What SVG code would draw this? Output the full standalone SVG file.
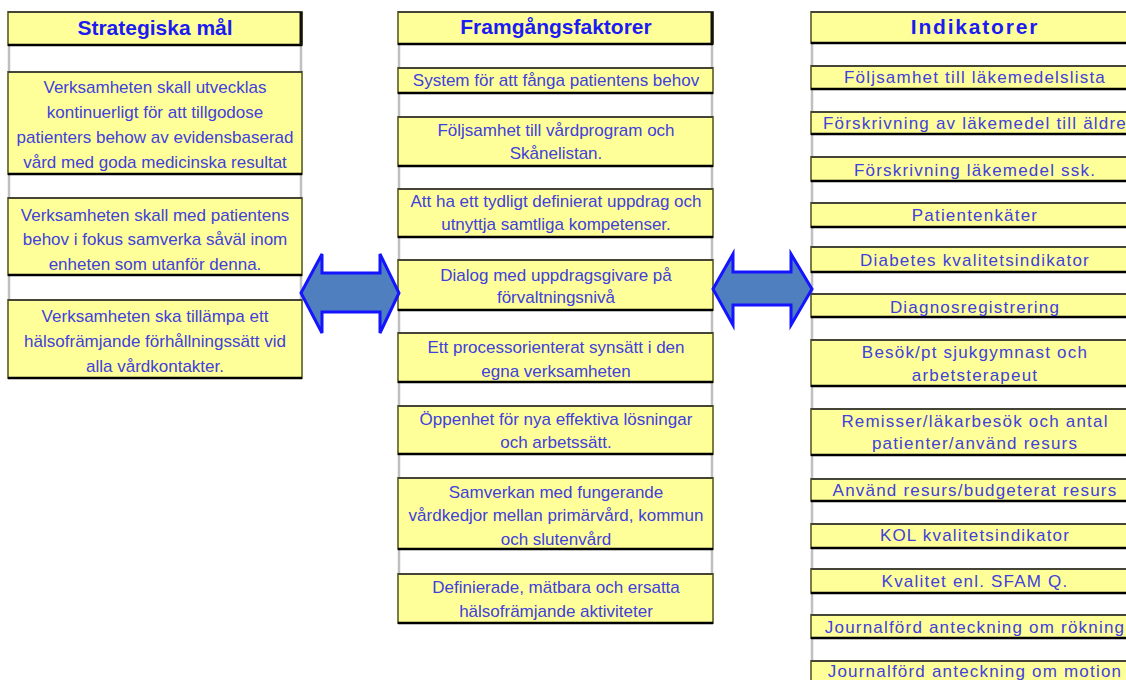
<svg xmlns="http://www.w3.org/2000/svg" width="1126" height="680" viewBox="0 0 1126 680">
  <style>
    .cell { fill: #ffff99; stroke: #7b7b45; stroke-width: 2; }
    .top { stroke: #333333; stroke-width: 1.5; }
    .bot { stroke: #000000; stroke-width: 2.5; }
    .grid { stroke: #c0c0c0; stroke-width: 2.5; fill: none; }
    .edge { stroke: #111111; stroke-width: 3; }
    .h { font-family: "Liberation Sans", Arial, sans-serif; font-weight: bold; font-size: 21px; fill: #1c1cf0; text-anchor: middle; }
    .t { font-family: "Liberation Sans", Arial, sans-serif; font-size: 17px; fill: #4141dc; text-anchor: middle; }
    .r { letter-spacing: 1.2px; }
    .hr { letter-spacing: 1.8px; }
    .arrow { fill: #4f7fbf; stroke: #1414ff; stroke-width: 3; stroke-linejoin: miter; }
  </style>

  <rect width="1126" height="680" fill="#ffffff"/>

  <!-- gray gridlines running through the empty rows -->
  <g id="gridlines">
    <path class="grid" d="M9 45 V300 M301 45 V300"/>
    <path class="grid" d="M399 44 V574 M712 44 V574"/>
    <path class="grid" d="M812 43 V680"/>
  </g>

  <!-- column 1: Strategiska mål -->
  <g id="strategiska-header">
    <rect class="cell" x="8" y="12" width="294" height="33"/>
    <line class="top" x1="8" y1="12" x2="302" y2="12"/>
    <line class="bot" x1="8" y1="45" x2="302" y2="45"/>
    <line class="edge" x1="301" y1="12" x2="301" y2="45"/>
    <text class="h" x="155" y="35">Strategiska mål</text>
  </g>
  <g id="mal-1">
    <rect class="cell" x="8" y="72" width="294" height="102"/>
    <line class="top" x1="8" y1="72" x2="302" y2="72"/>
    <line class="bot" x1="8" y1="174" x2="302" y2="174"/>
    <text class="t" x="155" y="93">Verksamheten skall utvecklas</text>
    <text class="t" x="155" y="118">kontinuerligt för att tillgodose</text>
    <text class="t" x="155" y="143">patienters behow av evidensbaserad</text>
    <text class="t" x="155" y="168">vård med goda medicinska resultat</text>
  </g>
  <g id="mal-2">
    <rect class="cell" x="8" y="198" width="294" height="77"/>
    <line class="top" x1="8" y1="198" x2="302" y2="198"/>
    <line class="bot" x1="8" y1="275" x2="302" y2="275"/>
    <text class="t" x="155" y="221">Verksamheten skall med patientens</text>
    <text class="t" x="155" y="245">behov i fokus samverka såväl inom</text>
    <text class="t" x="155" y="270">enheten som utanför denna.</text>
  </g>
  <g id="mal-3">
    <rect class="cell" x="8" y="300" width="294" height="78"/>
    <line class="top" x1="8" y1="300" x2="302" y2="300"/>
    <line class="bot" x1="8" y1="378" x2="302" y2="378"/>
    <text class="t" x="155" y="322">Verksamheten ska tillämpa ett</text>
    <text class="t" x="155" y="347">hälsofrämjande förhållningssätt vid</text>
    <text class="t" x="155" y="372">alla vårdkontakter.</text>
  </g>

  <!-- column 2: Framgångsfaktorer -->
  <g id="framgang-header">
    <rect class="cell" x="398" y="12" width="315" height="32"/>
    <line class="top" x1="398" y1="12" x2="713" y2="12"/>
    <line class="bot" x1="398" y1="44" x2="713" y2="44"/>
    <line class="edge" x1="712" y1="12" x2="712" y2="44"/>
    <text class="h" x="556" y="34">Framgångsfaktorer</text>
  </g>
  <g id="faktor-1">
    <rect class="cell" x="398" y="68" width="315" height="25"/>
    <line class="top" x1="398" y1="68" x2="713" y2="68"/>
    <line class="bot" x1="398" y1="93" x2="713" y2="93"/>
    <text class="t" x="556" y="86">System för att fånga patientens behov</text>
  </g>
  <g id="faktor-2">
    <rect class="cell" x="398" y="117" width="315" height="49"/>
    <line class="top" x1="398" y1="117" x2="713" y2="117"/>
    <line class="bot" x1="398" y1="166" x2="713" y2="166"/>
    <text class="t" x="556" y="136">Följsamhet till vårdprogram och</text>
    <text class="t" x="556" y="159">Skånelistan.</text>
  </g>
  <g id="faktor-3">
    <rect class="cell" x="398" y="189" width="315" height="48"/>
    <line class="top" x1="398" y1="189" x2="713" y2="189"/>
    <line class="bot" x1="398" y1="237" x2="713" y2="237"/>
    <text class="t" x="556" y="207">Att ha ett tydligt definierat uppdrag och</text>
    <text class="t" x="556" y="230">utnyttja samtliga kompetenser.</text>
  </g>
  <g id="faktor-4">
    <rect class="cell" x="398" y="260" width="315" height="50"/>
    <line class="top" x1="398" y1="260" x2="713" y2="260"/>
    <line class="bot" x1="398" y1="310" x2="713" y2="310"/>
    <text class="t" x="556" y="281">Dialog med uppdragsgivare på</text>
    <text class="t" x="556" y="303">förvaltningsnivå</text>
  </g>
  <g id="faktor-5">
    <rect class="cell" x="398" y="333" width="315" height="49"/>
    <line class="top" x1="398" y1="333" x2="713" y2="333"/>
    <line class="bot" x1="398" y1="382" x2="713" y2="382"/>
    <text class="t" x="556" y="353">Ett processorienterat synsätt i den</text>
    <text class="t" x="556" y="377">egna verksamheten</text>
  </g>
  <g id="faktor-6">
    <rect class="cell" x="398" y="406" width="315" height="48"/>
    <line class="top" x1="398" y1="406" x2="713" y2="406"/>
    <line class="bot" x1="398" y1="454" x2="713" y2="454"/>
    <text class="t" x="556" y="425">Öppenhet för nya effektiva lösningar</text>
    <text class="t" x="556" y="448">och arbetssätt.</text>
  </g>
  <g id="faktor-7">
    <rect class="cell" x="398" y="478" width="315" height="71"/>
    <line class="top" x1="398" y1="478" x2="713" y2="478"/>
    <line class="bot" x1="398" y1="549" x2="713" y2="549"/>
    <text class="t" x="556" y="498">Samverkan med fungerande</text>
    <text class="t" x="556" y="521">vårdkedjor mellan primärvård, kommun</text>
    <text class="t" x="556" y="545">och slutenvård</text>
  </g>
  <g id="faktor-8">
    <rect class="cell" x="398" y="574" width="315" height="49"/>
    <line class="top" x1="398" y1="574" x2="713" y2="574"/>
    <line class="bot" x1="398" y1="623" x2="713" y2="623"/>
    <text class="t" x="556" y="593">Definierade, mätbara och ersatta</text>
    <text class="t" x="556" y="617">hälsofrämjande aktiviteter</text>
  </g>

  <!-- column 3: Indikatorer (continues past the right edge) -->
  <g id="indikator-header">
    <rect class="cell" x="811" y="12" width="330" height="31"/>
    <line class="top" x1="811" y1="12" x2="1141" y2="12"/>
    <line class="bot" x1="811" y1="43" x2="1141" y2="43"/>
    <text class="h hr" x="975" y="34">Indikatorer</text>
  </g>
  <g id="ind-1">
    <rect class="cell" x="811" y="66" width="330" height="23"/>
    <line class="top" x1="811" y1="66" x2="1141" y2="66"/>
    <line class="bot" x1="811" y1="89" x2="1141" y2="89"/>
    <text class="t r" x="975" y="83">Följsamhet till läkemedelslista</text>
  </g>
  <g id="ind-2">
    <rect class="cell" x="811" y="112" width="330" height="22"/>
    <line class="top" x1="811" y1="112" x2="1141" y2="112"/>
    <line class="bot" x1="811" y1="134" x2="1141" y2="134"/>
    <text class="t r" x="975" y="129">Förskrivning av läkemedel till äldre</text>
  </g>
  <g id="ind-3">
    <rect class="cell" x="811" y="157" width="330" height="24"/>
    <line class="top" x1="811" y1="157" x2="1141" y2="157"/>
    <line class="bot" x1="811" y1="181" x2="1141" y2="181"/>
    <text class="t r" x="975" y="176">Förskrivning läkemedel ssk.</text>
  </g>
  <g id="ind-4">
    <rect class="cell" x="811" y="203" width="330" height="24"/>
    <line class="top" x1="811" y1="203" x2="1141" y2="203"/>
    <line class="bot" x1="811" y1="227" x2="1141" y2="227"/>
    <text class="t r" x="975" y="221">Patientenkäter</text>
  </g>
  <g id="ind-5">
    <rect class="cell" x="811" y="247" width="330" height="25"/>
    <line class="top" x1="811" y1="247" x2="1141" y2="247"/>
    <line class="bot" x1="811" y1="272" x2="1141" y2="272"/>
    <text class="t r" x="975" y="266">Diabetes kvalitetsindikator</text>
  </g>
  <g id="ind-6">
    <rect class="cell" x="811" y="294" width="330" height="23"/>
    <line class="top" x1="811" y1="294" x2="1141" y2="294"/>
    <line class="bot" x1="811" y1="317" x2="1141" y2="317"/>
    <text class="t r" x="975" y="313">Diagnosregistrering</text>
  </g>
  <g id="ind-7">
    <rect class="cell" x="811" y="340" width="330" height="46"/>
    <line class="top" x1="811" y1="340" x2="1141" y2="340"/>
    <line class="bot" x1="811" y1="386" x2="1141" y2="386"/>
    <text class="t r" x="975" y="358">Besök/pt sjukgymnast och</text>
    <text class="t r" x="975" y="381">arbetsterapeut</text>
  </g>
  <g id="ind-8">
    <rect class="cell" x="811" y="409" width="330" height="46"/>
    <line class="top" x1="811" y1="409" x2="1141" y2="409"/>
    <line class="bot" x1="811" y1="455" x2="1141" y2="455"/>
    <text class="t r" x="975" y="427">Remisser/läkarbesök och antal</text>
    <text class="t r" x="975" y="449">patienter/använd resurs</text>
  </g>
  <g id="ind-9">
    <rect class="cell" x="811" y="479" width="330" height="22"/>
    <line class="top" x1="811" y1="479" x2="1141" y2="479"/>
    <line class="bot" x1="811" y1="501" x2="1141" y2="501"/>
    <text class="t r" x="975" y="496">Använd resurs/budgeterat resurs</text>
  </g>
  <g id="ind-10">
    <rect class="cell" x="811" y="524" width="330" height="24"/>
    <line class="top" x1="811" y1="524" x2="1141" y2="524"/>
    <line class="bot" x1="811" y1="548" x2="1141" y2="548"/>
    <text class="t r" x="975" y="541">KOL kvalitetsindikator</text>
  </g>
  <g id="ind-11">
    <rect class="cell" x="811" y="569" width="330" height="24"/>
    <line class="top" x1="811" y1="569" x2="1141" y2="569"/>
    <line class="bot" x1="811" y1="593" x2="1141" y2="593"/>
    <text class="t r" x="975" y="587">Kvalitet enl. SFAM Q.</text>
  </g>
  <g id="ind-12">
    <rect class="cell" x="811" y="615" width="330" height="23"/>
    <line class="top" x1="811" y1="615" x2="1141" y2="615"/>
    <line class="bot" x1="811" y1="638" x2="1141" y2="638"/>
    <text class="t r" x="975" y="633">Journalförd anteckning om rökning</text>
  </g>
  <g id="ind-13">
    <rect class="cell" x="811" y="661" width="330" height="30"/>
    <line class="top" x1="811" y1="661" x2="1141" y2="661"/>
    <text class="t r" x="975" y="677">Journalförd anteckning om motion</text>
  </g>

  <!-- double-headed arrows between the columns -->
  <g id="connectors">
    <path class="arrow" d="M301 293 L322 254 L322 273 L380 273 L380 254 L399 293 L380 333 L380 312 L322 312 L322 333 Z"/>
    <path class="arrow" d="M713 289 L733 254 L733 272 L791 272 L791 254 L812 289 L791 325 L791 305 L733 305 L733 325 Z"/>
  </g>
</svg>
